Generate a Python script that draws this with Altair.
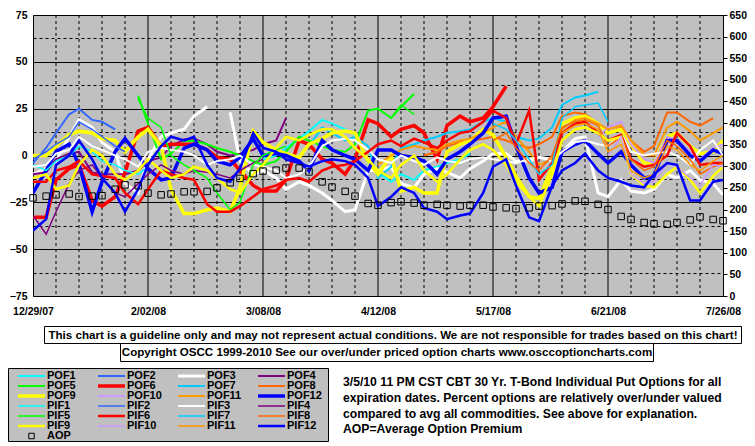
import altair as alt
import pandas as pd

N = None

DATES = [
    "2007-12-29", "2008-01-02", "2008-01-05", "2008-01-09", "2008-01-12", "2008-01-16", "2008-01-19", "2008-01-23", "2008-01-26", "2008-01-30",
    "2008-02-02", "2008-02-06", "2008-02-09", "2008-02-13", "2008-02-16", "2008-02-20", "2008-02-23", "2008-02-27", "2008-03-01", "2008-03-05",
    "2008-03-08", "2008-03-12", "2008-03-15", "2008-03-19", "2008-03-22", "2008-03-26", "2008-03-29", "2008-04-02", "2008-04-05", "2008-04-09",
    "2008-04-12", "2008-04-16", "2008-04-19", "2008-04-23", "2008-04-26", "2008-04-30", "2008-05-03", "2008-05-07", "2008-05-10", "2008-05-14",
    "2008-05-17", "2008-05-21", "2008-05-24", "2008-05-28", "2008-05-31", "2008-06-04", "2008-06-07", "2008-06-11", "2008-06-14", "2008-06-18",
    "2008-06-21", "2008-06-25", "2008-06-28", "2008-07-02", "2008-07-05", "2008-07-09", "2008-07-12", "2008-07-16", "2008-07-19", "2008-07-23",
    "2008-07-26",
]

POF1 = [N] * 20 + [-2, 0, 4, 9, 13, 19, 17, 14, 11, -4, -9, -14, -10, -13, -8, -6, -4, -2, 1] + [N] * 22
PIF1 = [-5, -8, -3, 0, 5, 2, -3, -5, -8, -10, -6] + [N] * 50
POF2 = [-4, 4, 12, 22, 25, 19, 18, 14] + [N] * 53
PIF2 = [-2, 2, 6, 10, 18, 14, 10, 5, 2] + [N] * 52
POF3 = [-10, -7, -3, 10, 19, 15, 7, 2, -15, -20, -2, 10, 12, 14, 21, 26, N,
        23, -3, -10, -8, -12, -18, -14, -16, -20, -24, -30, -29, -8, -8, -6, -15, -17, -10, -7, -9,
        -12, -7, -3, 1, 1, -3, -3, -1, -2, 2, 9, 10, -20, -22, -13, -19, -20, -18, -10, -12,
        -8, -13, -15, -21]
PIF3 = [-6, -5, 1, 3, 10, 5, 3, 0, -2, -6,
        2, 4, 3, 2, 0, -5, -3, -2, 0, -5,
        -6, -8, -12, -10, -6, 5, 8, 9, 8, 3,
        -2, -4, 0, -3, -5, -1, -3, -4, -2, -1,
        -2, -3, -4, -2, -1, -3, 2, 7, 8, 6,
        5, 11, 2, 0, 1, 2, 0, -5, 3, 8, 0]
POF4 = [-10, -9, -2, 1, 2, -9, -10, -10, -10, -8, -3, -1, 5, 8.5, 9, 6, 2, 0, 1, 3, 6, 8, 20] + [N] * 38
PIF4 = [-32, -42, -30, -15, -8, -5, -12, -20, -22, -15, -10, -5, -8, -10, -8, -9, -10, -12, -8, -4, -2] + [N] * 40
POF5 = [N] * 9 + [32, 17, -2, 1, 7.6, 8, 6, 4, 2, 0, -3, -5, -3, 2, 10, 8, 5, 3, 2, 6, 24, 25, 20, 26, 33] + [N] * 27
PIF5 = [N] * 9 + [30, 20, 15, 0, -5, -8, -12, -20, -29, -25, -5, 0, 3, 5] + [N] * 8 + [20, 27, 22] + [N] * 27
POF6 = [-33, -33, -13, -7, -5, -24, -27, -22, -9, 13, 15, 5, 6, 6, 6, 3, -1, -2, -8, -16,
        -19, -19, -13, 8, 6, -2, -4, -10, -2, 19, 17, 10, 14, 16, 12, -2, 16, 21, 18, 20,
        26, 37] + [N] * 19
PIF6 = [-14, -14, -8, -6, -3, -10, -11, -12, -20, -26,
        -18, -8, -10, -12, -13, -26, -30, -30, -27, -22,
        -18, -16, -13, -12, -14, -8, -6, -5, -3, 2,
        6, 8, 5, 9, 7, 4, 8, 12, 13, 18,
        24, 20, 6, 24, -13, -4, 12, 17, 18, 12,
        8, 11, -2, -6, -5, 0, 12, 5, -5, -4, -4]
POF7 = [N] * 24 + [5, 15, 12, 8, 10, 5, -12, -6, 4, 6, 8, 10, 12, 13, 14, 18, 20, 18, 10, 8, 9, 15, 27, 31, 32, 34] + [N] * 11
PIF7 = [N] * 40 + [17, 14, 8, -2, -10, -5, 20, 26, 27, 28, 18] + [N] * 10
POF8 = [N] * 34 + [0, 2, 5, 7, 8, 9, 10, 8, 6, 4, 6, 10, 21, 23, 22, 17, 12, 15, 8, 2, 5, 23, 23, 18, 16, 20] + [N]
PIF8 = [N] * 40 + [8, 12, 4, -4, -8, 0, 15, 18, 19, 16, 5, 10, -2, -8, -6, 8, 5, -2, -10, -6, -4]
POF9 = [0, 0, 5, 11, 13, 12, 9, 8, 2, 10,
        14, 5, -18, -31, -31, -29, -28, -30, -17, 13,
        7, 3, 1, -1, 6, 9, 12, 13, 12, -3,
        -10, 0, -19, -17, -20, -20, 2, 6, 8, 14,
        11, -1, -11, -22, -23, -6, 17, 20, 21, 17,
        12, 14, 6, -4, -4, 10, 12, 5, 1, 2, 8]
PIF9 = [-12, -10, -18, -16, -5, 3, 0, -10, -13, -8,
        -2, -8, -12, -10, -6, -8, -12, -18, -20, -10,
        -5, 4, 10, 8, 11, 14, 14, 10, 4, -2,
        -8, -12, -5, 0, -8, -14, -10, -2, 3, 6,
        3, -5, -14, -22, -27, -10, 8, 14, 15, 12,
        8, 10, -10, -16, -17, -10, -6, -13, -20, -11, -6]
POF10 = [N] * 49 + [10, 15, 18, 6, -2, -4, 10, 8, 2, -2, 4, 6]
PIF10 = [N] * 50 + [0, 10, -10, -15, -14, -4, -6, -12, -16, -5, -6]
POF11 = [N] * 30 + [-5, 0, 3, 5, 4, 3, 6, 8, 9, 12, 15, 18, 10, 2, -5, -2, 14, 19, 20, 17, 14, 16, 8, 0, 0, 15, 18, 13, 8, 12, 15]
PIF11 = [N] * 46 + [12, 16, 17, 14, 2, 6, -8, -12, -10, 5, 3, -5, -8, -3, 0]
POF12 = [-20, -8, 2, 6, -5, -30, -14, 2, 9, 0,
         -7, -13, -12, 4, 6, 3, -3, -5, -1, 9,
         0, 1, 0, -3, -8, 8, 3, 0, -2, -8,
         3, 3, 0, -1, -3, -10, -2, 2, 6, 12,
         20, 21, 5, -12, -20, -17, 2, 6, 8, 1,
         -4, 2, -5, -12, -11, 8, 8, 0, -3, 3, 1]
PIF12 = [-40, -34, -5, 0, 8, -2, -12, -20, -30, -18,
         -5, 5, 10, 8, 10, -5, -12, -14, -7, 12,
         4, 2, -2, -4, -6, -3, -2, -3, -5, -12,
         -27, -22, -17, -20, -28, -30, -34, -32, -31, -20,
         -6, -2, -16, -33, -35, -16, -8, -4, 1, -8,
         -12, -14, -16, -17, -10, -4, -5, -24, -24, -14, -13]

AOP = [227, 231, 234, 236, 230, 231, 232, 247, 257, 255,
       238, 234, 236, 241, 241, 242, 250, 262, 272, 283,
       289, 291, 296, 296, 287, 264, 252, 242, 231, 214,
       210, 216, 218, 215, 210, 212, 210, 208, 210, 210,
       206, 204, 202, 204, 208, 209, 213, 220, 219, 212,
       200, 184, 177, 170, 167, 166, 170, 176, 183, 177, 174]

SERIES = [
    ("POF1", POF1), ("POF2", POF2), ("POF3", POF3), ("POF4", POF4),
    ("POF5", POF5), ("POF6", POF6), ("POF7", POF7), ("POF8", POF8),
    ("POF9", POF9), ("POF10", POF10), ("POF11", POF11), ("POF12", POF12),
    ("PIF1", PIF1), ("PIF2", PIF2), ("PIF3", PIF3), ("PIF4", PIF4),
    ("PIF5", PIF5), ("PIF6", PIF6), ("PIF7", PIF7), ("PIF8", PIF8),
    ("PIF9", PIF9), ("PIF10", PIF10), ("PIF11", PIF11), ("PIF12", PIF12),
]

BASE_COLORS = {
    "1": "#00FFFF", "2": "#3366FF", "3": "#FFFFFF", "4": "#800080",
    "5": "#00FF00", "6": "#FF0000", "7": "#00CCFF", "8": "#FF6600",
    "9": "#FFFF00", "10": "#CC99FF", "11": "#FF9900", "12": "#0000FF",
}
WIDTHS = {"POF6": 3.5, "POF9": 3.5, "POF12": 3.5, "PIF6": 2.5, "PIF9": 2.5, "PIF12": 2.5,
          "POF3": 3, "PIF3": 2}

TITLE1 = "This chart is a guideline only and may not represent actual conditions. We are not responsible for trades based on this chart!"
TITLE2 = "Copyright OSCC 1999-2010 See our over/under priced option charts www.osccoptioncharts.com"
NOTE = [
    "3/5/10 11 PM CST CBT 30 Yr. T-Bond Individual Put Options for all",
    "expiration dates. Percent options are relatively over/under valued",
    "compared to avg all commodities. See above for explanation.",
    "AOP=Average Option Premium",
]

# grid positions (days from first date): weekly dashed, every 5 weeks solid
LABEL_DAYS = [0, 35, 70, 105, 140, 175, 210]
WEEK_DAYS = [d for d in range(7, 210, 7) if d % 35 != 0]

FONT = "Liberation Sans"

start = pd.Timestamp(DATES[0])
days = [(pd.Timestamp(d) - start).days for d in DATES]


def color_of(name):
    return BASE_COLORS[name[3:]]


def width_of(name):
    if name in WIDTHS:
        return WIDTHS[name]
    return 2 if name.startswith("POF") else 1.5


rows = []
for k, (name, vals) in enumerate(SERIES):
    assert len(vals) == len(DATES), name
    seg = 0
    gap = True
    for d, v in zip(days, vals):
        if v is None:
            gap = True
            continue
        if gap:
            seg += 1
            gap = False
        rows.append({"series": name, "seg": f"{k:02d}-{name}-{seg}", "day": d, "value": v,
                     "col": color_of(name), "w": width_of(name)})
df = pd.DataFrame(rows)
df_aop = pd.DataFrame({"day": days, "aop": AOP})

label_style = dict(labelFont=FONT, labelFontWeight="bold", labelFontSize=10.5, labelColor="black")
x_scale = alt.Scale(domain=[0, 210], nice=False, zero=False)

x_axis = alt.Axis(
    values=LABEL_DAYS, title=None, ticks=False, domain=False, grid=False,
    labelExpr="timeFormat(datetime(2007, 11, 29 + datum.value), '%-m/%d/%y')",
    labelFlush=False, labelOverlap=False, labelPadding=10, **label_style)

y_axis = alt.Axis(
    orient="left",
    values=[-75, -62.5, -50, -37.5, -25, -12.5, 0, 12.5, 25, 37.5, 50, 62.5, 75],
    title=None, ticks=False, domain=False, grid=True, gridColor="black", gridWidth=1, gridOpacity=1,
    gridDash={"condition": {"test": "datum.value % 25 === 0", "value": []}, "value": [3, 3]},
    labelExpr="datum.value % 25 === 0 ? datum.label : ''", labelOverlap=False, labelPadding=6,
    **label_style)

r_axis = alt.Axis(
    orient="right", values=list(range(0, 651, 50)), title=None, grid=False, domain=False,
    ticks=True, tickSize=4, tickColor="black", tickWidth=1, labelPadding=2, labelOverlap=False,
    format="d", **label_style)

vgrid_dash = alt.Chart(pd.DataFrame({"day": WEEK_DAYS})).mark_rule(
    color="black", strokeWidth=1, strokeDash=[3, 3]
).encode(x=alt.X("day:Q", scale=x_scale, axis=x_axis))

vgrid_solid = alt.Chart(pd.DataFrame({"day": LABEL_DAYS[1:-1]})).mark_rule(
    color="black", strokeWidth=1
).encode(x=alt.X("day:Q", scale=x_scale, axis=x_axis))

lines = alt.Chart(df).mark_line(clip=True).encode(
    x=alt.X("day:Q", scale=x_scale, axis=x_axis),
    y=alt.Y("value:Q", scale=alt.Scale(domain=[-75, 75], nice=False, zero=False), axis=y_axis),
    color=alt.Color("col:N", scale=None),
    strokeWidth=alt.StrokeWidth("w:Q", scale=None),
    detail="seg:N",
    order="day:Q",
)

aop = alt.Chart(df_aop).mark_point(shape="square", filled=False, size=42, color="black",
                                   strokeWidth=1, opacity=1).encode(
    x=alt.X("day:Q", scale=x_scale, axis=x_axis),
    y=alt.Y("aop:Q", scale=alt.Scale(domain=[0, 650], nice=False, zero=False), axis=r_axis),
)

# annotation boxes (pixel positions relative to plot area)
boxes = pd.DataFrame([
    {"x": 11.5, "x2": 708.5, "y": 311.5, "y2": 328.5, "fill": "white"},
    {"x": 87.5, "x2": 620.5, "y": 328.5, "y2": 346.5, "fill": "white"},
    {"x": -24.5, "x2": 295.5, "y": 353.5, "y2": 426.5, "fill": "#C0C0C0"},
])
box_layer = alt.Chart(boxes).mark_rect(stroke="black", strokeWidth=1).encode(
    x=alt.X("x:Q", scale=None), x2="x2:Q",
    y=alt.Y("y:Q", scale=None), y2="y2:Q",
    fill=alt.Fill("fill:N", scale=None),
)

center_txt = pd.DataFrame([
    {"x": 360, "y": 320.5, "t": TITLE1},
    {"x": 354, "y": 338, "t": TITLE2},
])
center_layer = alt.Chart(center_txt).mark_text(
    font=FONT, fontWeight="bold", fontSize=11.6, color="black", align="center", baseline="middle"
).encode(x=alt.X("x:Q", scale=None), y=alt.Y("y:Q", scale=None), text="t:N")

note_txt = pd.DataFrame({"x": [310] * 4, "y": [367, 383, 399, 414], "t": NOTE})
note_layer = alt.Chart(note_txt).mark_text(
    font=FONT, fontWeight="bold", fontSize=12.2, color="black", align="left", baseline="middle"
).encode(x=alt.X("x:Q", scale=None), y=alt.Y("y:Q", scale=None), text="t:N")

leg_rows = []
for k, (name, _) in enumerate(SERIES):
    r, c = divmod(k, 4)
    leg_rows.append({"name": name, "sx": -15 + 80 * c, "ex": 12 + 80 * c, "lx": 14 + 80 * c,
                     "sy": 361 + 10 * r, "col": color_of(name), "w": width_of(name)})
leg = pd.DataFrame(leg_rows)
leg_lines = alt.Chart(leg).mark_rule().encode(
    x=alt.X("sx:Q", scale=None), x2="ex:Q", y=alt.Y("sy:Q", scale=None),
    color=alt.Color("col:N", scale=None), strokeWidth=alt.StrokeWidth("w:Q", scale=None),
)
leg_text_df = pd.concat([leg[["name", "lx", "sy"]],
                         pd.DataFrame([{"name": "AOP", "lx": 14, "sy": 421}])])
leg_text = alt.Chart(leg_text_df).mark_text(
    font=FONT, fontWeight="bold", fontSize=11, color="black", align="left", baseline="middle"
).encode(x=alt.X("lx:Q", scale=None), y=alt.Y("sy:Q", scale=None), text="name:N")
leg_aop = alt.Chart(pd.DataFrame([{"px": -1.5, "py": 421}])).mark_point(
    shape="square", filled=False, size=30, color="black", strokeWidth=1, opacity=1
).encode(x=alt.X("px:Q", scale=None), y=alt.Y("py:Q", scale=None))

chart = alt.layer(
    vgrid_dash, vgrid_solid, lines, aop, box_layer, center_layer, note_layer,
    leg_lines, leg_text, leg_aop
).resolve_scale(y="independent").properties(
    width=690, height=281,
    autosize=alt.AutoSizeParams(type="none"),
    padding={"left": 25, "top": 7, "right": 24, "bottom": 147},
    background="white",
).configure_view(fill="#C0C0C0", stroke="black", strokeWidth=1)

chart.save("out.html", embed_options={"renderer": "svg", "actions": False})
